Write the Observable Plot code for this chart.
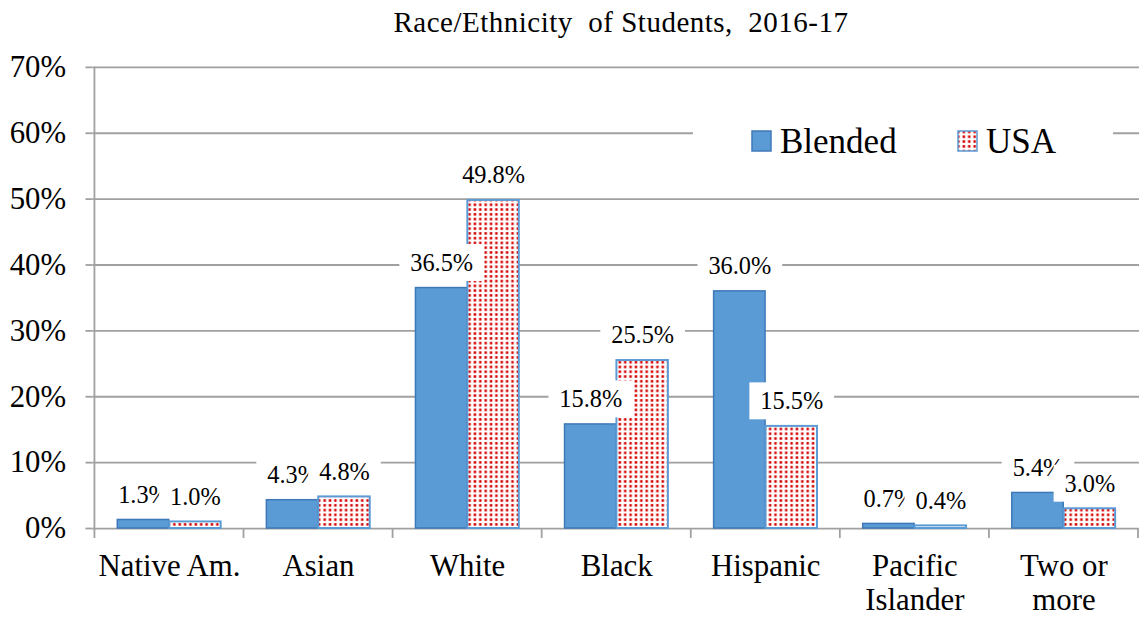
<!DOCTYPE html>
<html>
<head>
<meta charset="utf-8">
<script src="https://cdn.jsdelivr.net/npm/d3@7"></script>
<script src="https://cdn.jsdelivr.net/npm/@observablehq/plot@0.6"></script>
<style>
  html, body { margin: 0; padding: 0; background: #fff; overflow: hidden; }
  #wrap { position: relative; width: 1139px; height: 619px; overflow: hidden;
          font-family: "Liberation Serif", "Times New Roman", serif; color: #000; }
  #wrap svg, #wrap svg text { font-family: "Liberation Serif", "Times New Roman", serif !important; }
  #title { height: 45px; line-height: 45px; font-size: 29px; text-align: center;
           padding-left: 103px; white-space: pre; letter-spacing: 0.5px; }
  #legend { position: absolute; left: 0; top: 0; pointer-events: none; }
</style>
</head>
<body>
<div id="wrap">
  <div id="title">Race/Ethnicity  of Students,  2016-17</div>
</div>
<script>
// ---- data ----
const categories = ["Native Am.", "Asian", "White", "Black", "Hispanic", "Pacific Islander", "Two or more"];
const categoryLabels = ["Native Am.", "Asian", "White", "Black", "Hispanic", "Pacific\nIslander", "Two or\nmore"];
const seriesNames = ["Blended", "USA"];
const blendedValues = [1.3, 4.3, 36.5, 15.8, 36.0, 0.7, 5.4];
const usaValues = [1.0, 4.8, 49.8, 25.5, 15.5, 0.4, 3.0];
const yTicks = [0, 10, 20, 30, 40, 50, 60, 70];

// ---- layout / style ----
const W = 1146, H = 574, ML = 93, MR = 0, MT = 22, MB = 88;
const bw = (W - ML - MR) / categories.length;
const outer = 23;
const gridColor = "#a0a0a0";
const blueFill = "#5b9bd5";
const blueStroke = "#3f78b8";
const serif = "Liberation Serif, Times New Roman, serif";

const blendedRows = categories.map((c, i) => ({category: c, series: seriesNames[0], value: blendedValues[i]}));
const usaRows = categories.map((c, i) => ({category: c, series: seriesNames[1], value: usaValues[i]}));
const fmt = d => d.value.toFixed(1) + "%";
const labelDx = bw / 4 - outer / 2;

function categoryTicks(index, scales, values, dimensions) {
  const x = scales.x;
  const {height, marginBottom, marginTop} = dimensions;
  const y0 = height - marginBottom;
  const band = x.bandwidth ? x.bandwidth() : bw;
  const xs = categories.map(c => x(c));
  xs.push(xs[xs.length - 1] + band);
  const g = d3.create("svg:g").attr("stroke", gridColor).attr("stroke-width", 1.8);
  g.selectAll("line").data(xs).join("line")
    .attr("x1", d => d).attr("x2", d => d)
    .attr("y1", (d, i) => i === 0 ? marginTop : y0)
    .attr("y2", y0 + 10);
  return g.node();
}

const chart = Plot.plot({
  width: W, height: H,
  marginLeft: ML, marginRight: MR, marginTop: MT, marginBottom: MB,
  style: "font-family: 'Liberation Serif', 'Times New Roman', serif; font-size: 24px; color: #000; background: #fff; overflow: visible;",
  x: {domain: categories, padding: 0, label: null},
  y: {domain: [0, 70], label: null},
  marks: [
    Plot.gridY(yTicks, {stroke: gridColor, strokeOpacity: 1, strokeWidth: 1.8}),
    Plot.axisY(yTicks, {tickSize: 7, tickPadding: 20, tickFormat: d => d + "%", fontSize: 31, fontFamily: serif,
      stroke: gridColor, strokeWidth: 1.8, strokeOpacity: 1, label: null}),
    Plot.axisX({tickSize: 0, tickPadding: 22.5, fontSize: 31, fontFamily: serif, lineHeight: 1.13,
      tickFormat: d => categoryLabels[categories.indexOf(d)], label: null}),
    categoryTicks,
    Plot.barY(blendedRows, {x: "category", y: "value", fill: blueFill, stroke: blueStroke, strokeWidth: 1.5,
      insetLeft: outer, insetRight: bw / 2}),
    Plot.barY(usaRows, {x: "category", y: "value", fill: "url(#dots)", stroke: blueFill, strokeWidth: 2,
      insetLeft: bw / 2, insetRight: outer}),
    Plot.text(blendedRows, {x: "category", y: "value", text: fmt, dx: -labelDx, dy: -25, fontSize: 24.5, fontFamily: serif, fill: "#000"}),
    Plot.text(usaRows, {x: "category", y: "value", text: fmt, dx: labelDx, dy: -25, fontSize: 24.5, fontFamily: serif, fill: "#000"})
  ]
});

// dotted pattern for the USA bars
const defs = d3.select(chart).insert("defs", ":first-child");
function addPattern(sel, id) {
  const p = sel.append("pattern").attr("id", id).attr("patternUnits", "userSpaceOnUse").attr("width", 5.4).attr("height", 4.8);
  p.append("rect").attr("width", 5.4).attr("height", 4.8).attr("fill", "#fff");
  p.append("rect").attr("x", 1.4).attr("y", 1.1).attr("width", 2.5).attr("height", 2.5).attr("fill", "#d40000");
}
addPattern(defs, "dots");

const wrap = document.getElementById("wrap");
wrap.appendChild(chart);

// white boxes behind data labels
d3.select(chart).selectAll('g[aria-label="text"]').each(function () {
  const g = this;
  Array.from(g.querySelectorAll("text")).forEach(t => {
    const b = t.getBBox();
    const r = document.createElementNS("http://www.w3.org/2000/svg", "rect");
    r.setAttribute("x", b.x - 11);
    r.setAttribute("y", b.y - 5);
    r.setAttribute("width", b.width + 22);
    r.setAttribute("height", b.height + 10);
    r.setAttribute("fill", "#fff");
    r.setAttribute("stroke", "none");
    if (t.getAttribute("transform")) r.setAttribute("transform", t.getAttribute("transform"));
    g.insertBefore(r, t);
  });
});

// legend
const leg = d3.select(wrap).append("svg").attr("id", "legend").attr("width", 1139).attr("height", 619);
addPattern(leg.append("defs"), "dotsLegend");
leg.append("rect").attr("x", 693).attr("y", 108).attr("width", 420).attr("height", 64).attr("fill", "#fff");
const legendItems = [
  {name: seriesNames[0], fill: blueFill, stroke: blueStroke, x: 752},
  {name: seriesNames[1], fill: "url(#dotsLegend)", stroke: blueFill, x: 958}
];
const li = leg.selectAll("g.item").data(legendItems).join("g").attr("class", "item");
li.append("rect").attr("x", d => d.x).attr("y", 131).attr("width", 19).attr("height", 20)
  .attr("fill", d => d.fill).attr("stroke", d => d.stroke).attr("stroke-width", 1.5);
li.append("text").attr("x", d => d.x + 28).attr("y", 153)
  .attr("font-family", serif).attr("font-size", 35).attr("fill", "#000")
  .text(d => d.name);
</script>
</body>
</html>
